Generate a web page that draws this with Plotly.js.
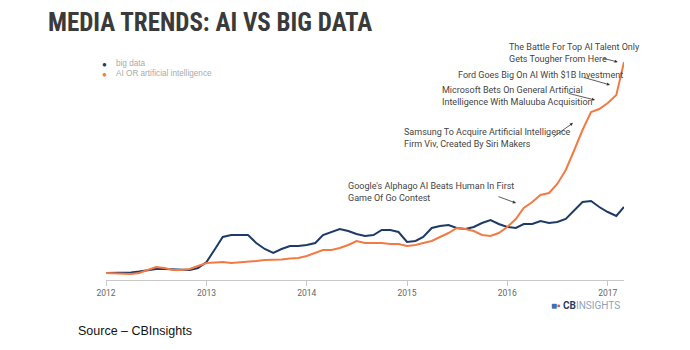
<!DOCTYPE html>
<html><head><meta charset="utf-8">
<script src="https://cdn.plot.ly/plotly-3.0.1.min.js"></script>
<style>html,body{margin:0;padding:0;background:#fff}#chart{width:690px;height:350px}</style>
</head><body><div id="chart"></div>
<script>
const months = [
 "2012-01-01","2012-02-01","2012-03-01","2012-04-01","2012-05-01","2012-06-01","2012-07-01","2012-08-01","2012-09-01","2012-10-01","2012-11-01","2012-12-01",
 "2013-01-01","2013-02-01","2013-03-01","2013-04-01","2013-05-01","2013-06-01","2013-07-01","2013-08-01","2013-09-01","2013-10-01","2013-11-01","2013-12-01",
 "2014-01-01","2014-02-01","2014-03-01","2014-04-01","2014-05-01","2014-06-01","2014-07-01","2014-08-01","2014-09-01","2014-10-01","2014-11-01","2014-12-01",
 "2015-01-01","2015-02-01","2015-03-01","2015-04-01","2015-05-01","2015-06-01","2015-07-01","2015-08-01","2015-09-01","2015-10-01","2015-11-01","2015-12-01",
 "2016-01-01","2016-02-01","2016-03-01","2016-04-01","2016-05-01","2016-06-01","2016-07-01","2016-08-01","2016-09-01","2016-10-01","2016-11-01","2016-12-01",
 "2017-01-01","2017-02-01","2017-03-01"];
const bigData = [
 0,0,0.3,0.5,1.5,3,4,4,3.5,3,3,5,
 11,24,36,38,38,38,30,24,20,24,27,27,
 28,30,38,41,44,42,39,37,38,43,43,41,
 31,32,36,45,47,48,45,44,46,50,53,49,
 46,45,49,49,52,50,51,54,63,71,72,66,
 61,57,66];
const aiData = [
 0,-0.5,-1,-1,0,3,6,5,3,3,4,7,
 10,10.5,11,10,10.5,11,12,13,13,13.5,14.5,15,
 17,20,23,23,25,28,32,30,30,30,29,29,
 27,28,30,32,36,40,45,44,42,38,37,40,
 46,54,65,71,78,80,89,103,123,143,161,164,
 170,178,211];
const seriesNames = ["big data", "AI OR artificial intelligence"];
const tickVals = ["2012-01-01","2013-01-01","2014-01-01","2015-01-01","2016-01-01","2017-01-01"];
const tickText = ["2012","2013","2014","2015","2016","2017"];
const events = [
 "Google's Alphago AI Beats Human In First<br>Game Of Go Contest",
 "Samsung To Acquire Artificial Intelligence<br>Firm Viv, Created By Siri Makers",
 "Microsoft Bets On General Artificial<br>Intelligence With Maluuba Acquisition",
 "Ford Goes Big On AI With $1B Investment",
 "The Battle For Top AI Talent Only<br>Gets Tougher From Here"];

const BLUE = "#1e3a66", ORANGE = "#f27a45";
const traces = [
 {x: months, y: bigData, name: seriesNames[0], type: "scatter", mode: "lines", line: {color: BLUE, width: 2}},
 {x: months, y: aiData, name: seriesNames[1], type: "scatter", mode: "lines", line: {color: ORANGE, width: 2}}
];

const evFont = {family: "Roboto, Arial, sans-serif", size: 9, color: "#444"};
const textPos = [[0.4633,0.391],[0.571,0.631],[0.645,0.82],[0.675,0.911],[0.7735,1.009]];
const arrowPos = [[0.7915,0.342,-19,-7],[0.9015,0.698,-21,15],[0.944,0.8,-28,-7],[0.973,0.867,-28,-8],[0.988,0.969,-16,-4]];
const annotations = [];
events.forEach((t,i)=>{
  annotations.push({text: t, xref:"paper", yref:"paper", x: textPos[i][0], y: textPos[i][1], xanchor:"left", yanchor:"middle", align:"left", showarrow:false, font: evFont});
  annotations.push({text: "", xref:"paper", yref:"paper", x: arrowPos[i][0], y: arrowPos[i][1], ax: arrowPos[i][2], ay: arrowPos[i][3], showarrow:true, arrowhead:2, arrowsize:0.8, arrowwidth:0.8, arrowcolor:"#333"});
});
// legend
[[BLUE,0.964],[ORANGE,0.916]].forEach((c,i)=>{
  annotations.push({text:"●", xref:"paper", yref:"paper", x:-0.002, y:c[1], xanchor:"center", yanchor:"middle", showarrow:false, font:{size:8, color:c[0]}});
  annotations.push({text: seriesNames[i], xref:"paper", yref:"paper", x:0.0154, y:c[1], xanchor:"left", yanchor:"middle", showarrow:false, font:{family:"Arial, sans-serif", size:8.2, color:"#aaa"}});
});
// source
annotations.push({text:"Source – CBInsights", xref:"paper", yref:"paper", x:(76-106)/518, y:(280-331)/225, xanchor:"left", yanchor:"middle", showarrow:false, font:{family:"Liberation Sans, Arial, sans-serif", size:12.5, color:"#111"}});
// logo
annotations.push({text:"<span style='color:#3d6fae'>■</span><span style='color:#e0524a'>▪</span> <b><span style='color:#2c3e5c'>CB</span></b><span style='color:#8ea4bd'>INSIGHTS</span>", xref:"paper", yref:"paper", x:(622-106)/518, y:(280-305)/225, xanchor:"right", yanchor:"middle", showarrow:false, font:{family:"Roboto, Arial, sans-serif", size:10}});

const layout = {
  width: 690, height: 350,
  margin: {l:106, r:66, t:55, b:70},
  paper_bgcolor:"#fff", plot_bgcolor:"#fff",
  showlegend:false,
  title: {text:"MEDIA TRENDS: AI VS BIG DATA", xref:"container", yref:"container", x:48/690, xanchor:"left", y:1-22/350, yanchor:"middle",
          font:{family:"Liberation Sans Narrow, Roboto Condensed, DejaVu Sans Condensed, sans-serif", size:25, color:"#3a3a3a", weight:700}},
  xaxis: {type:"date", range:["2012-01-01","2017-03-01"], tickvals:tickVals, ticktext:tickText, showgrid:false, zeroline:false,
          showline:true, linecolor:"#c8c8c8", linewidth:1, ticks:"outside", ticklen:5, tickcolor:"#c8c8c8",
          tickfont:{family:"Roboto, Arial, sans-serif", size:8.5, color:"#666"}, fixedrange:true},
  yaxis: {range:[-7,218], visible:false, showgrid:false, zeroline:false, fixedrange:true},
  annotations: annotations
};
Plotly.newPlot("chart", traces, layout, {displayModeBar:false, staticPlot:true});
</script></body></html>
